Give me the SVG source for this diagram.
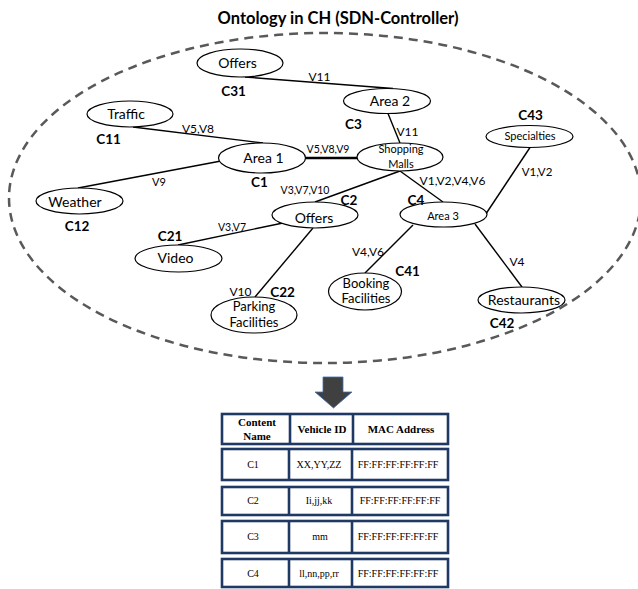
<svg xmlns="http://www.w3.org/2000/svg" width="638" height="589" viewBox="0 0 638 589">
<style>
.t{font-family:Lato,"Open Sans","Liberation Sans",sans-serif;fill:#000;text-anchor:middle}
.n{font-size:14px}
.s{font-size:11px}
.m{font-size:13px}
.v{font-size:12px}
.c{font-size:13.5px;font-weight:bold}
.e{fill:#fff;stroke:#000;stroke-width:1.2}
.ln{stroke:#000;stroke-width:1.4;fill:none}
.tb{fill:#fff;stroke:#203864;stroke-width:2.6}
.dv{stroke:#203864;stroke-width:2.6}
.tt{font-family:"Liberation Serif","Times New Roman",serif;font-size:10px;text-anchor:middle;fill:#000}
.th{font-family:"Liberation Serif","Times New Roman",serif;font-size:11px;font-weight:bold;text-anchor:middle;fill:#000}
</style>
<rect width="638" height="589" fill="#fff"/>
<text class="t" x="338" y="24" style="font-size:16.5px;font-weight:bold">Ontology in CH (SDN-Controller)</text>
<ellipse cx="325" cy="198" rx="316" ry="165" fill="none" stroke="#595959" stroke-width="2.5" stroke-dasharray="9 6"/>

<g id="connectors">
<line class="ln" x1="245" y1="77" x2="393" y2="88.5"/>
<line class="ln" x1="388" y1="113.5" x2="400" y2="143"/>
<line class="ln" x1="133" y1="127" x2="263" y2="143"/>
<line class="ln" x1="221" y1="161" x2="78" y2="188"/>
<line class="ln" x1="305.5" y1="158" x2="357" y2="158" style="stroke-width:2.6"/>
<line class="ln" x1="400" y1="171" x2="443" y2="202"/>
<line class="ln" x1="400" y1="171" x2="315" y2="202"/>
<line class="ln" x1="530" y1="147.5" x2="486.5" y2="213"/>
<line class="ln" x1="283" y1="223" x2="178" y2="245"/>
<line class="ln" x1="313" y1="228" x2="255" y2="297"/>
<line class="ln" x1="413" y1="225" x2="365" y2="273"/>
<line class="ln" x1="475" y1="224" x2="522" y2="287"/>
<text class="t v" x="319.5" y="81">V11</text>
<text class="t v" x="407.5" y="136">V11</text>
<text class="t v" x="198" y="133">V5,V8</text>
<text class="t" x="328" y="152.5" style="font-size:10.5px">V5,V8,V9</text>
<text class="t" x="159" y="186" style="font-size:11px">V9</text>
<text class="t v" x="452.5" y="185">V1,V2,V4,V6</text>
<text class="t" x="537" y="176" style="font-size:11.5px">V1,V2</text>
<text class="t" x="305" y="194" style="font-size:10.5px">V3,V7,V10</text>
<text class="t" x="232" y="231" style="font-size:10.5px">V3,V7</text>
<text class="t v" x="240.5" y="296">V10</text>
<text class="t v" x="368" y="256">V4,V6</text>
<text class="t v" x="517" y="266">V4</text>
</g>

<g id="c31"><ellipse class="e" cx="240" cy="63" rx="43" ry="14"/><text class="t n" x="237.5" y="68">Offers</text><text class="t c" x="233.5" y="96">C31</text></g>
<g id="c3"><ellipse class="e" cx="387" cy="101" rx="43.5" ry="12.5"/><text class="t n" x="390" y="106">Area 2</text><text class="t c" x="353.5" y="129">C3</text></g>
<g id="c11"><ellipse class="e" cx="130" cy="114" rx="43" ry="13"/><text class="t n" x="126" y="118.5">Traffic</text><text class="t c" x="108.5" y="144">C11</text></g>
<g id="c1"><ellipse class="e" cx="262" cy="158" rx="43.5" ry="15"/><text class="t n" x="263.5" y="163">Area 1</text><text class="t c" x="259.5" y="187">C1</text></g>
<g id="shopping"><ellipse class="e" cx="400" cy="157" rx="43" ry="14"/><text class="t s" x="401" y="153">Shopping</text><text class="t s" x="401" y="168">Malls</text></g>
<g id="c43"><ellipse class="e" cx="529.5" cy="136.5" rx="43.5" ry="11"/><text class="t s" x="530" y="140">Specialties</text><text class="t c" x="530.5" y="120">C43</text></g>
<g id="c12"><ellipse class="e" cx="79.5" cy="201" rx="43.5" ry="13"/><text class="t n" x="75" y="207">Weather</text><text class="t c" x="77" y="231">C12</text></g>
<g id="c2"><ellipse class="e" cx="315" cy="215" rx="43" ry="13"/><text class="t n" x="314" y="223">Offers</text><text class="t c" x="349" y="205">C2</text></g>
<g id="c4"><ellipse class="e" cx="443.5" cy="214.5" rx="43.5" ry="12.5"/><text class="t s" x="443" y="220">Area 3</text><text class="t c" x="416" y="205">C4</text></g>
<g id="c21"><ellipse class="e" cx="178.5" cy="258.5" rx="43.5" ry="13.5"/><text class="t n" x="175.5" y="262.5">Video</text><text class="t c" x="170" y="241">C21</text></g>
<g id="c22"><ellipse class="e" cx="254" cy="315" rx="43" ry="18"/><text class="t m" x="254" y="311">Parking</text><text class="t m" x="254" y="327">Facilities</text><text class="t c" x="282.5" y="297">C22</text></g>
<g id="c41"><ellipse class="e" cx="365" cy="291.5" rx="36.5" ry="18.5"/><text class="t m" x="366" y="288">Booking</text><text class="t m" x="366" y="303">Facilities</text><text class="t c" x="407.5" y="276">C41</text></g>
<g id="c42"><ellipse class="e" cx="521.5" cy="300" rx="43.5" ry="13"/><text class="t n" x="524" y="305">Restaurants</text><text class="t c" x="502" y="328">C42</text></g>

<g id="arrow"><polygon points="323,377 343,377 343,392 352,392 333.5,408 315,392 323,392" fill="#404040" stroke="#3f6fb5" stroke-width="0.8"/></g>

<g id="table">
<rect class="tb" x="222" y="414" width="226" height="30"/>
<line class="dv" x1="290" y1="414" x2="290" y2="444"/><line class="dv" x1="353" y1="414" x2="353" y2="444"/>
<text class="th" x="257" y="426">Content</text><text class="th" x="257" y="440">Name</text>
<text class="th" x="322" y="433">Vehicle ID</text><text class="th" x="401" y="433">MAC Address</text>

<rect class="tb" x="222" y="449" width="226" height="31"/>
<line class="dv" x1="289" y1="449" x2="289" y2="480"/><line class="dv" x1="352" y1="449" x2="352" y2="480"/>
<text class="tt" x="253" y="468">C1</text><text class="tt" x="319" y="468">XX,YY,ZZ</text><text class="tt" x="398" y="468">FF:FF:FF:FF:FF:FF</text>

<rect class="tb" x="222" y="487" width="226" height="28"/>
<line class="dv" x1="289" y1="487" x2="289" y2="515"/><line class="dv" x1="352" y1="487" x2="352" y2="515"/>
<text class="tt" x="253" y="504">C2</text><text class="tt" x="319" y="504">Ii,jj,kk</text><text class="tt" x="400" y="504">FF:FF:FF:FF:FF:FF</text>

<rect class="tb" x="222" y="521" width="226" height="32"/>
<line class="dv" x1="289" y1="521" x2="289" y2="553"/><line class="dv" x1="352" y1="521" x2="352" y2="553"/>
<text class="tt" x="253" y="540">C3</text><text class="tt" x="320" y="540">mm</text><text class="tt" x="398" y="540">FF:FF:FF:FF:FF:FF</text>

<rect class="tb" x="222" y="559" width="226" height="28"/>
<line class="dv" x1="289" y1="559" x2="289" y2="587"/><line class="dv" x1="352" y1="559" x2="352" y2="587"/>
<text class="tt" x="253" y="577">C4</text><text class="tt" x="319" y="577">ll,nn,pp,rr</text><text class="tt" x="398" y="577">FF:FF:FF:FF:FF:FF</text>
</g>
</svg>
